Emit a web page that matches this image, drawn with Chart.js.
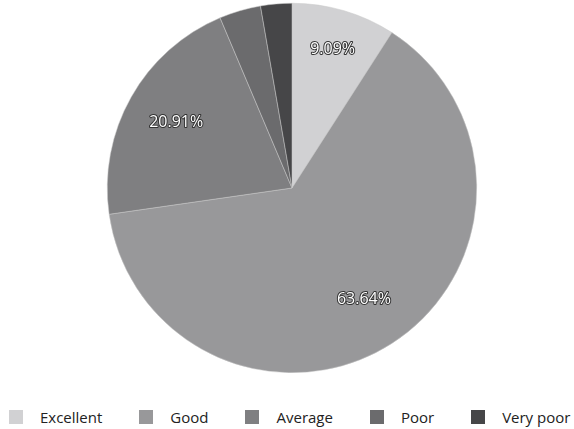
<!DOCTYPE html>
<html>
<head>
<meta charset="utf-8">
<script src="https://cdn.jsdelivr.net/npm/chart.js@4"></script>
<style>
  html, body { margin: 0; padding: 0; background: #fff; }
  #wrap { position: relative; width: 574px; height: 429px; overflow: hidden; }
  #chartBox { position: absolute; left: 0; top: 0; width: 574px; height: 373px; }
  #legend {
    position: absolute; left: 9px; top: 406px; height: 22px;
    display: flex; align-items: center; white-space: nowrap;
    font-family: 'Open Sans', sans-serif; font-size: 15px; color: #222;
  }
  #legend .item { display: flex; align-items: center; margin-right: 37px; }
  #legend .box { width: 14px; height: 14px; margin-right: 17px; }
</style>
</head>
<body>
<div id="wrap">
  <div id="chartBox"><canvas id="ratingChart"></canvas></div>
  <div id="legend"></div>
</div>
<script>
// responses out of 110
const categories = ["Excellent", "Good", "Average", "Poor", "Very poor"];
const counts = [10, 70, 23, 4, 3];
const sliceColors = ["#d1d1d3", "#98989a", "#7f7f81", "#6b6b6d", "#464648"];
// how far out along the slice each percent label sits
const labelRadius = [0.78, 0.72, 0.72, 0.72, 0.72];

const total = counts.reduce((a, b) => a + b, 0);

// draw the percent labels on the big slices
const pctLabels = {
  id: "pctLabels",
  afterDatasetsDraw(chart) {
    const ctx = chart.ctx;
    const arcs = chart.getDatasetMeta(0).data;
    ctx.save();
    ctx.font = "16px 'Open Sans'";
    ctx.textAlign = "center";
    ctx.textBaseline = "middle";
    ctx.lineJoin = "round";
    arcs.forEach((arc, i) => {
      const pct = counts[i] / total * 100;
      if (pct < 5) return;
      const mid = (arc.startAngle + arc.endAngle) / 2;
      const r = arc.outerRadius * labelRadius[i];
      const x = arc.x + Math.cos(mid) * r;
      const y = arc.y + Math.sin(mid) * r;
      const txt = pct.toFixed(2) + "%";
      ctx.lineWidth = 2;
      ctx.strokeStyle = "#333";
      ctx.strokeText(txt, x, y);
      ctx.fillStyle = "#fff";
      ctx.fillText(txt, x, y);
    });
    ctx.restore();
  }
};

// legend as html so the spacing can match
function buildLegend(chart) {
  const box = document.getElementById("legend");
  box.innerHTML = "";
  chart.data.labels.forEach((label, i) => {
    const item = document.createElement("div");
    item.className = "item";
    const sw = document.createElement("span");
    sw.className = "box";
    sw.style.background = chart.data.datasets[0].backgroundColor[i];
    const txt = document.createElement("span");
    txt.textContent = label;
    item.appendChild(sw);
    item.appendChild(txt);
    box.appendChild(item);
  });
}

document.addEventListener("DOMContentLoaded", () => {
  const ctx = document.getElementById("ratingChart").getContext("2d");
  const chart = new Chart(ctx, {
    type: "pie",
    data: {
      labels: categories,
      datasets: [{
        data: counts,
        backgroundColor: sliceColors,
        borderColor: "#c8c8c8",
        borderWidth: 0.5
      }]
    },
    options: {
      responsive: true,
      maintainAspectRatio: false,
      animation: false,
      layout: { padding: { top: 3, bottom: 0, left: 10, right: 0 } },
      plugins: {
        tooltip: { enabled: false },
        legend: { display: false }
      }
    },
    plugins: [pctLabels]
  });
  buildLegend(chart);
});
</script>
</body>
</html>
